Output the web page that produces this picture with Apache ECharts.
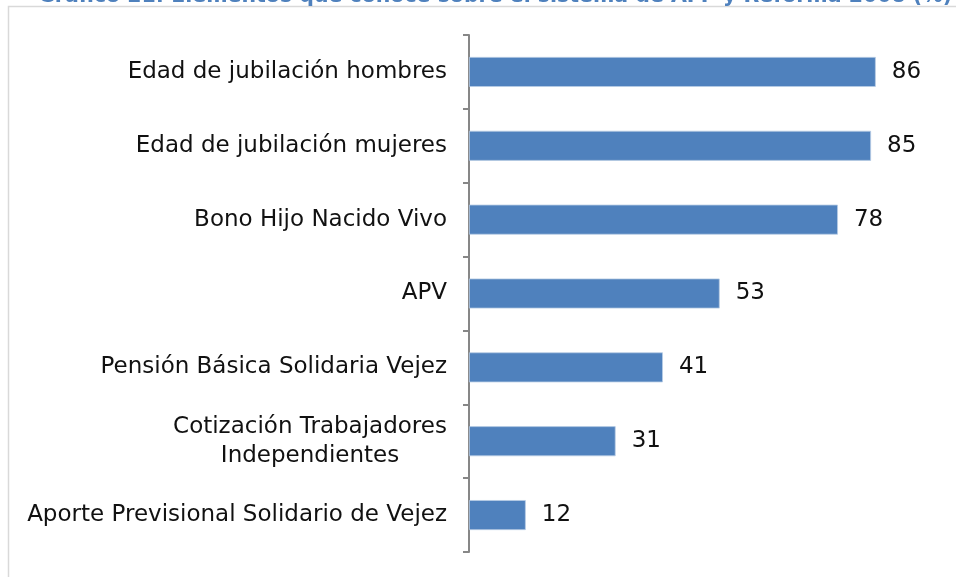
<!DOCTYPE html>
<html><head><meta charset="utf-8">
<script src="https://cdn.jsdelivr.net/npm/echarts@6/dist/echarts.min.js"></script>
<style>html,body{margin:0;padding:0;background:#fff}#c{width:956px;height:577px}</style>
</head><body><div id="c"></div>
<script>
const titleText = 'Gráfico 21: Elementos que conoce sobre el sistema de AFP y Reforma 2008 (%)';
const categories = [
  'Edad de jubilación hombres',
  'Edad de jubilación mujeres',
  'Bono Hijo Nacido Vivo',
  'APV',
  'Pensión Básica Solidaria Vejez',
  'Cotización Trabajadores\nIndependientes',
  'Aporte Previsional Solidario de Vejez'
];
const values = [86, 85, 78, 53, 41, 31, 12];

const FONT = 'DejaVu Sans';
const FS = 23;
const ctx = document.createElement('canvas').getContext('2d');
ctx.font = FS + 'px "' + FONT + '"';
function blockW(lines){ return Math.ceil(Math.max.apply(null, lines.map(l => ctx.measureText(l).width))); }

const chart = echarts.init(document.getElementById('c'), null, {renderer:'canvas'});
chart.setOption({
  animation:false,
  textStyle:{fontFamily:FONT},
  graphic:[
    {type:'rect', shape:{x:8.5,y:6.5,width:1000,height:700}, style:{fill:'none',stroke:'#d9d9d9',lineWidth:1.5}, silent:true},
    {type:'text', left:38, top:-14, style:{text:titleText, fontFamily:FONT, fontSize:20.5, fontWeight:'bold', fill:'#4f81bd'}}
  ],
  grid:{left:469, right:14, top:35, bottom:25, containLabel:false},
  xAxis:{type:'value', min:0, max:100, show:false},
  yAxis:{
    type:'category', data:categories, inverse:true,
    axisLine:{lineStyle:{color:'#878787', width:2}},
    axisTick:{show:true, length:6, lineStyle:{color:'#878787', width:2}},
    axisLabel:{
      fontSize:FS, color:'#111111', margin:22, fontFamily:FONT, lineHeight:29,
      formatter:function(v){
        if (v.indexOf('\n') < 0) return v;
        return v.split('\n').map(l => '{c|' + l + '}').join('\n');
      },
      rich:{c:{width:blockW(['Cotización Trabajadores']), align:'center', fontSize:FS, fontFamily:FONT, color:'#111111', lineHeight:29}}
    }
  },
  series:[{
    type:'bar', data:values, barWidth:30,
    itemStyle:{color:'#4f81bd', borderColor:'#b9cde5', borderWidth:0.8},
    label:{show:true, position:'right', distance:16, fontSize:FS, color:'#111111', fontFamily:FONT}
  }]
});
</script></body></html>
